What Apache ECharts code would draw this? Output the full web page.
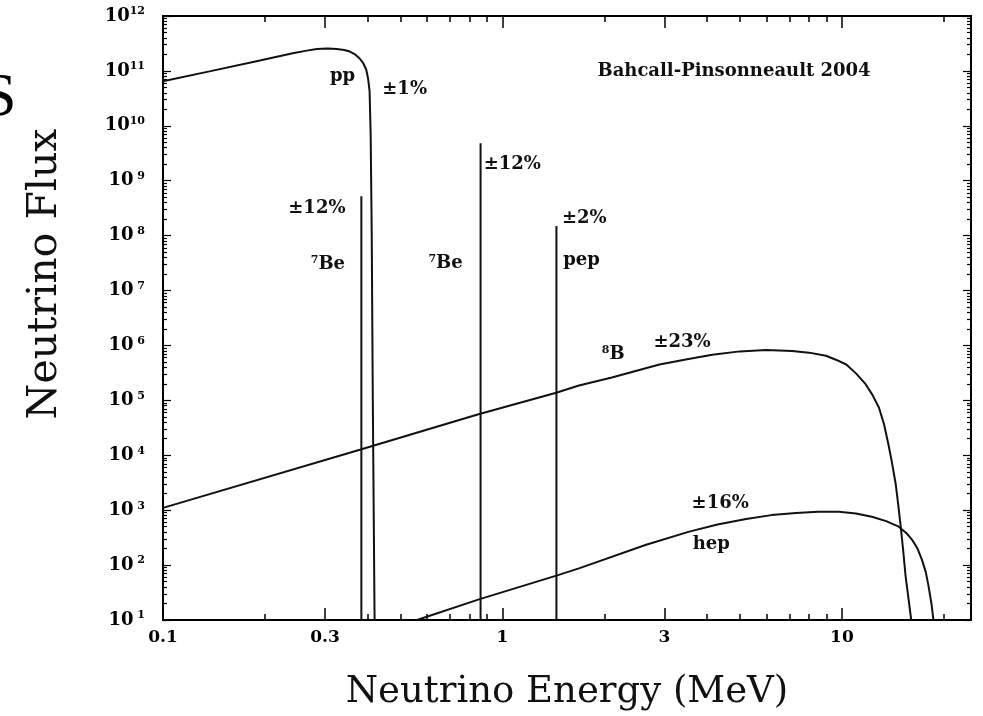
<!DOCTYPE html>
<html>
<head>
<meta charset="utf-8">
<title>Solar neutrino spectrum</title>
<script src="https://cdn.jsdelivr.net/npm/echarts@6/dist/echarts.min.js"></script>
<style>
  html, body { margin: 0; padding: 0; background: #fff; }
  #chart { width: 983px; height: 716px; }
</style>
</head>
<body>
<div id="chart"></div>
<script>
// continuum spectra, energy in MeV
const ppE = [0.1, 0.137, 0.193, 0.241, 0.265, 0.284, 0.305, 0.325, 0.342, 0.355, 0.368, 0.379, 0.389, 0.397, 0.402, 0.406, 0.409, 0.412, 0.415, 0.42]
const ppFlux = [6.5e10, 9.8e10, 1.55e11, 2.1e11, 2.34e11, 2.5e11, 2.57e11, 2.5e11, 2.4e11, 2.25e11, 2.0e11, 1.7e11, 1.38e11, 1.05e11, 7.2e10, 4.3e10, 7e9, 1e8, 1e5, 10]

const b8E = [0.1, 0.38, 0.85, 1.44, 1.68, 2.1, 2.9, 3.5, 4.15, 5.0, 5.98, 7.13, 8.0, 8.97, 9.6, 10.3, 11.0, 11.76, 12.3, 12.85, 13.3, 13.7, 14.05, 14.4, 14.65, 14.9, 15.15, 15.4, 15.7, 16.0]
const b8Flux = [1.1e3, 1.26e4, 5.6e4, 1.38e5, 1.86e5, 2.6e5, 4.5e5, 5.6e5, 6.8e5, 7.8e5, 8.3e5, 7.9e5, 7.4e5, 6.5e5, 5.5e5, 4.5e5, 3.1e5, 1.95e5, 1.26e5, 7.4e4, 3.7e4, 1.6e4, 7.2e3, 3e3, 1.26e3, 500, 186, 63, 25, 10]

const hepE = [0.56, 0.857, 1.45, 1.68, 2.65, 3.55, 4.3, 5.22, 6.2, 7.33, 8.5, 9.8, 11.0, 12.25, 13.5, 14.7, 15.5, 16.1, 16.7, 17.2, 17.65, 18.0, 18.35, 18.6]
const hepFlux = [10, 24, 65, 87, 234, 407, 550, 692, 813, 891, 933, 933, 871, 759, 631, 501, 380, 288, 200, 126, 76, 41, 20, 10]

// line sources
const lineE = [0.384, 0.862, 1.442]
const lineFlux = [5.2e8, 4.8e9, 1.5e8]

// annotations
const noteText = ['pp', '±1%', 'Bahcall-Pinsonneault 2004', '±12%', '{sup|7}Be', '±12%', '{sup|7}Be',
  '±2%', 'pep', '{sup|8}B', '±23%', '±16%', 'hep']
const noteE = [0.338, 0.515, 4.81, 0.284, 0.306, 1.069, 0.68, 1.742, 1.71, 2.12, 3.38, 4.38, 4.12]
const noteFlux = [8.1e10, 4.7e10, 1e11, 3.1e8, 2.95e7, 2e9, 3.1e7, 2.05e8, 3.5e7, 6.8e5, 1.12e6, 1.35e3, 234]

// axis ticks
const xLabelTicks = [0.1, 0.3, 1, 3, 10]
const xMajorTicks = [0.3, 1, 3, 10]
const xMinorTicks = [0.2, 0.4, 0.5, 0.6, 0.7, 0.8, 0.9, 2, 4, 5, 6, 7, 8, 9, 20]
const yMajorTicks = [1e1, 1e2, 1e3, 1e4, 1e5, 1e6, 1e7, 1e8, 1e9, 1e10, 1e11, 1e12]
const yMinorTicks = []
yMajorTicks.slice(0, -1).forEach(d => {
  for (let k = 2; k <= 9; k++) yMinorTicks.push(d * k)
})

const zip = (xs, ys) => xs.map((x, i) => [x, ys[i]])

const chart = echarts.init(document.getElementById('chart'), null, { renderer: 'canvas' })

const serif = 'DejaVu Serif'
const black = '#000'

function xAxisOf(position, ticks, len, withLabels) {
  return {
    type: 'log',
    logBase: 10,
    min: 0.1,
    max: 24,
    position: position,
    axisLine: { show: true, lineStyle: { color: black, width: 2 } },
    axisTick: { show: true, inside: true, length: len, customValues: ticks, lineStyle: { color: black, width: 1.5 } },
    axisLabel: withLabels ? {
      show: true,
      customValues: xLabelTicks,
      margin: 9,
      color: black,
      fontFamily: serif,
      fontWeight: 'bold',
      fontSize: 17,
      formatter: v => String(+(+v).toPrecision(2))
    } : { show: false },
    splitLine: { show: false },
    minorTick: { show: false }
  }
}

function yAxisOf(position, ticks, len, withLabels) {
  return {
    type: 'log',
    logBase: 10,
    min: 10,
    max: 1e12,
    position: position,
    axisLine: { show: true, lineStyle: { color: black, width: 2 } },
    axisTick: { show: true, inside: true, length: len, customValues: ticks, lineStyle: { color: black, width: 1.2 } },
    axisLabel: withLabels ? {
      show: true,
      customValues: yMajorTicks,
      margin: 18,
      color: black,
      formatter: v => {
        const n = Math.round(Math.log10(v))
        return '{b|10}{s|' + (n < 10 ? ' ' : '') + n + '}'
      },
      rich: {
        b: { fontFamily: serif, fontWeight: 'bold', fontSize: 18, color: black, lineHeight: 20 },
        s: { fontFamily: serif, fontWeight: 'bold', fontSize: 11, color: black, lineHeight: 20, verticalAlign: 'top' }
      }
    } : { show: false },
    splitLine: { show: false },
    minorTick: { show: false }
  }
}

const lineStyle = { color: '#111', width: 2 }

const curves = [
  { name: 'pp', type: 'line', data: zip(ppE, ppFlux) },
  { name: '8B', type: 'line', data: zip(b8E, b8Flux) },
  { name: 'hep', type: 'line', data: zip(hepE, hepFlux) }
]
const lines = lineE.map((e, i) => ({
  name: 'line' + i,
  type: 'line',
  data: [[e, 10], [e, lineFlux[i]]]
}))
const series = curves.concat(lines).map(s => Object.assign(s, {
  showSymbol: false,
  symbol: 'none',
  lineStyle: lineStyle,
  silent: true
}))

series.push({
  name: 'notes',
  type: 'scatter',
  symbolSize: 1,
  itemStyle: { color: 'rgba(255,255,255,0)', opacity: 1 },
  silent: true,
  data: noteText.map((t, i) => ({ name: t, value: [noteE[i], noteFlux[i]] })),
  label: {
    show: true,
    position: 'inside',
    formatter: p => p.name,
    color: '#111',
    opacity: 1,
    textBorderWidth: 0,
    fontFamily: serif,
    fontWeight: 'bold',
    fontSize: 18,
    rich: {
      sup: { fontFamily: serif, fontWeight: 'bold', fontSize: 11, color: '#111', verticalAlign: 'top', lineHeight: 20 }
    }
  }
})

const option = {
  backgroundColor: '#fff',
  animation: false,
  grid: { left: 163, right: 12, top: 16, bottom: 92, containLabel: false },
  xAxis: [
    Object.assign(xAxisOf('bottom', xMajorTicks, 12, true), {
      name: 'Neutrino Energy (MeV)',
      nameLocation: 'middle',
      nameGap: 54,
      nameTextStyle: { fontFamily: serif, fontSize: 37, color: '#111' }
    }),
    xAxisOf('bottom', xMinorTicks, 6, false),
    xAxisOf('top', xMajorTicks, 12, false),
    xAxisOf('top', xMinorTicks, 6, false)
  ],
  yAxis: [
    yAxisOf('left', yMajorTicks, 8, true),
    yAxisOf('left', yMinorTicks, 4, false),
    yAxisOf('right', yMajorTicks, 8, false),
    yAxisOf('right', yMinorTicks, 4, false)
  ],
  graphic: [
    {
      type: 'text',
      x: 45,
      y: 274,
      rotation: Math.PI / 2,
      style: { text: 'Neutrino Flux', font: '41px "DejaVu Serif"', fill: '#111', align: 'center', verticalAlign: 'middle' }
    },
    {
      type: 'text',
      x: -18,
      y: 68,
      style: { text: 'S', font: '62px "Liberation Serif"', fill: '#000' }
    }
  ],
  series: series
}

chart.setOption(option)
</script>
</body>
</html>
